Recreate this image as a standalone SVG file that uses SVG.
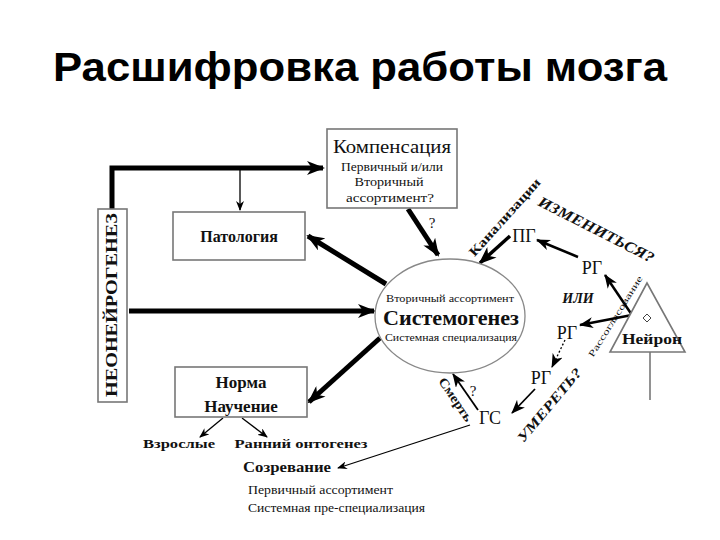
<svg xmlns="http://www.w3.org/2000/svg" width="720" height="540" viewBox="0 0 720 540">
<style>
.s{font-family:"Liberation Serif","DejaVu Serif",serif;fill:#111}
.b{font-weight:bold}
.i{font-style:italic}
.box{fill:#fff;stroke:#777;stroke-width:1.6}
.thick{stroke:#000;stroke-width:5;fill:none;marker-end:url(#big)}
.med{stroke:#000;stroke-width:2.5;fill:none;marker-end:url(#mid)}
.thin{stroke:#000;stroke-width:1.3;fill:none;marker-end:url(#small)}
</style>
<defs>
<marker id="big" markerUnits="userSpaceOnUse" viewBox="0 0 18 14" markerWidth="18" markerHeight="14" refX="16" refY="7" orient="auto"><path d="M0,0 L18,7 L0,14 L5,7 z" fill="#000"/></marker>
<marker id="mid" markerUnits="userSpaceOnUse" viewBox="0 0 14 11" markerWidth="14" markerHeight="11" refX="13" refY="5.5" orient="auto"><path d="M0,0 L14,5.5 L0,11 L4,5.5 z" fill="#000"/></marker>
<marker id="small" markerUnits="userSpaceOnUse" viewBox="0 0 10 8" markerWidth="10" markerHeight="8" refX="9" refY="4" orient="auto"><path d="M0,0 L10,4 L0,8 L3,4 z" fill="#000"/></marker>
</defs>
<rect width="720" height="540" fill="#fff"/>
<text x="360" y="81" text-anchor="middle" font-family="'Liberation Sans',Arial,sans-serif" font-weight="bold" font-size="40" fill="#000" textLength="614" lengthAdjust="spacingAndGlyphs">Расшифровка работы мозга</text>

<g id="connectors">
<polyline class="thick" points="112,209 112,168 323,168"/>
<polyline class="thin" points="240,168 240,210"/>
<line class="thick" x1="408" y1="209" x2="438" y2="255"/>
<line class="thick" x1="386" y1="284" x2="308" y2="236"/>
<line class="thick" x1="129" y1="311" x2="374" y2="311"/>
<line class="thick" x1="380" y1="338" x2="309" y2="402"/>
<line class="thin" x1="223" y1="418" x2="200" y2="437"/>
<line class="thin" x1="242" y1="418" x2="267" y2="437"/>
<line class="thick" style="stroke-width:3.5" x1="510" y1="236" x2="480" y2="263"/>
<line class="med" x1="578" y1="257" x2="537" y2="240"/>
<line class="med" x1="632" y1="315" x2="605" y2="275"/>
<line class="med" x1="632" y1="315" x2="580" y2="325"/>
<line class="med" style="stroke-width:1.3;stroke-dasharray:2 2" x1="565" y1="340" x2="552" y2="367"/>
<line class="med" style="stroke-width:1.8" x1="535" y1="389" x2="512" y2="413"/>
<line class="med" style="stroke-width:1.8" x1="478" y1="410" x2="453" y2="374"/>
<line class="thin" x1="470" y1="425" x2="338" y2="468"/>
<line x1="650" y1="352" x2="650" y2="400" stroke="#777" stroke-width="1.6"/>
</g>

<g id="neoneurogenesis">
<rect class="box" x="98" y="209" width="29" height="193"/>
<text class="s b" transform="translate(117,305) rotate(-90)" text-anchor="middle" font-size="17" textLength="184" lengthAdjust="spacingAndGlyphs">НЕОНЕЙРОГЕНЕЗ</text>
</g>

<g id="kompensaciya">
<rect class="box" x="327" y="129" width="130" height="79"/>
<text class="s" x="392" y="153" text-anchor="middle" font-size="18" textLength="118" lengthAdjust="spacingAndGlyphs">Компенсация</text>
<text class="s" x="392" y="171" text-anchor="middle" font-size="12" textLength="102" lengthAdjust="spacingAndGlyphs">Первичный и/или</text>
<text class="s" x="389" y="186" text-anchor="middle" font-size="12" textLength="69" lengthAdjust="spacingAndGlyphs">Вторичный</text>
<text class="s" x="390" y="202" text-anchor="middle" font-size="12" textLength="88" lengthAdjust="spacingAndGlyphs">ассортимент?</text>
</g>

<g id="patologiya">
<rect class="box" x="173" y="212" width="132" height="48"/>
<text class="s b" x="239" y="242" text-anchor="middle" font-size="16">Патология</text>
</g>

<g id="sistemogenez">
<ellipse cx="450" cy="316" rx="75" ry="57" fill="#fff" stroke="#888" stroke-width="1.3"/>
<text class="s" x="450" y="302" text-anchor="middle" font-size="10" textLength="128" lengthAdjust="spacingAndGlyphs">Вторичный ассортимент</text>
<text class="s b" x="451" y="325" text-anchor="middle" font-size="21" textLength="136" lengthAdjust="spacingAndGlyphs">Системогенез</text>
<text class="s" x="451" y="341" text-anchor="middle" font-size="10" textLength="132" lengthAdjust="spacingAndGlyphs">Системная специализация</text>
</g>

<g id="norma">
<rect class="box" x="175" y="367" width="132" height="50"/>
<text class="s b" x="241" y="388" text-anchor="middle" font-size="17">Норма</text>
<text class="s b" x="241" y="412" text-anchor="middle" font-size="17">Научение</text>
</g>

<g id="labels-bottom">
<text class="s b" x="179" y="448" text-anchor="middle" font-size="13" textLength="72" lengthAdjust="spacingAndGlyphs">Взрослые</text>
<text class="s b" x="301" y="448" text-anchor="middle" font-size="13" textLength="133" lengthAdjust="spacingAndGlyphs">Ранний онтогенез</text>
<text class="s b" x="287" y="472" text-anchor="middle" font-size="14" textLength="88" lengthAdjust="spacingAndGlyphs">Созревание</text>
<text class="s" x="248" y="494" font-size="12" textLength="145" lengthAdjust="spacingAndGlyphs">Первичный ассортимент</text>
<text class="s" x="248" y="512" font-size="12" textLength="177" lengthAdjust="spacingAndGlyphs">Системная пре-специализация</text>
</g>

<g id="neuron">
<polygon points="647,283 610,352 685,352" fill="#fff" stroke="#777" stroke-width="1.6"/>
<polygon points="647,314 651,318 647,322 643,318" fill="none" stroke="#444" stroke-width="1"/>
<text class="s b" x="652" y="344" text-anchor="middle" font-size="14" textLength="60" lengthAdjust="spacingAndGlyphs">Нейрон</text>
</g>

<g id="right-labels">
<text class="s" x="524" y="242" text-anchor="middle" font-size="18">ПГ</text>
<text class="s" x="592" y="274" text-anchor="middle" font-size="18">РГ</text>
<text class="s b i" x="578" y="303" text-anchor="middle" font-size="14">ИЛИ</text>
<text class="s" x="567" y="339" text-anchor="middle" font-size="18">РГ</text>
<text class="s" x="541" y="384" text-anchor="middle" font-size="18">РГ</text>
<text class="s" x="490" y="424" text-anchor="middle" font-size="18">ГС</text>
<text class="s" x="432" y="228" text-anchor="middle" font-size="15">?</text>
<text class="s" x="473" y="396" text-anchor="middle" font-size="15">?</text>
<text class="s b" transform="translate(508,220) rotate(-48)" text-anchor="middle" font-size="13" textLength="100" lengthAdjust="spacingAndGlyphs">Канализации</text>
<text class="s b i" transform="translate(594,234) rotate(27)" text-anchor="middle" font-size="15" textLength="128" lengthAdjust="spacingAndGlyphs">ИЗМЕНИТЬСЯ?</text>
<text class="s" transform="translate(618,318) rotate(-58)" text-anchor="middle" font-size="9" textLength="94" lengthAdjust="spacingAndGlyphs">Рассогласование</text>
<text class="s b" transform="translate(452,402) rotate(56)" text-anchor="middle" font-size="13" textLength="50" lengthAdjust="spacingAndGlyphs">Смерть</text>
<text class="s b i" transform="translate(553,408) rotate(-50)" text-anchor="middle" font-size="14" textLength="92" lengthAdjust="spacingAndGlyphs">УМЕРЕТЬ?</text>
</g>
</svg>
